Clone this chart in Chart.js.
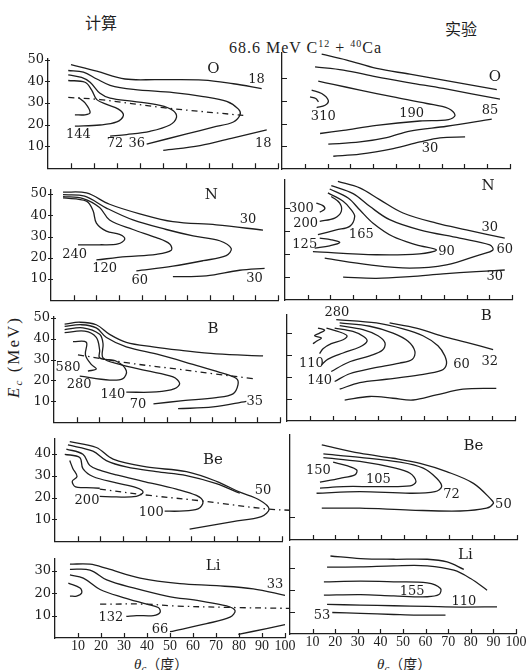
<!DOCTYPE html>
<html lang="zh">
<head>
<meta charset="UTF-8">
<title>68.6 MeV C12 + 40Ca contour maps</title>
<script src="https://cdn.jsdelivr.net/npm/chart.js"></script>
<style>
  html, body { margin: 0; padding: 0; background: #fff; }
  body { position: relative; width: 529px; height: 670px; overflow: hidden; color: #1e1e1e; }
  canvas { position: absolute; }
  .txt { position: absolute; white-space: nowrap; line-height: 1; }
  .cjk { font-family: 'Noto Sans CJK SC', sans-serif; font-size: 16px; }
  .serif { font-family: 'Liberation Serif', serif; }
  sup { font-size: 10px; vertical-align: 6px; }
  sub { font-size: 11px; vertical-align: -3px; }
</style>
</head>
<body>
<div class="txt cjk" style="left:85px;top:14px;">计算</div>
<div class="txt cjk" style="left:445px;top:20px;">实验</div>
<div class="txt serif" style="left:229px;top:39px;font-size:16px;letter-spacing:1px;">68.6 MeV C<sup>12</sup> + <sup>40</sup>Ca</div>
<div class="txt serif" style="left:14px;top:357px;font-size:17px;letter-spacing:2px;transform:translate(-50%,-50%) rotate(-90deg);"><i>E</i><sub><i>c</i></sub> (MeV)</div>
<div class="txt serif" style="left:134px;top:656px;font-size:15px;"><i>θ</i><sub><i>c</i></sub><span class="cjk" style="font-size:14px;">（度）</span></div>
<div class="txt serif" style="left:377px;top:656px;font-size:15px;"><i>θ</i><sub><i>c</i></sub><span class="cjk" style="font-size:14px;">（度）</span></div>

<script>
  const INK = '#1e1e1e';

  // angle ticks (degrees) shared by every panel
  const thetaTicks = [10, 20, 30, 40, 50, 60, 70, 80, 90, 100];

  // ---- O, calculation ----
  const oCalc18 = [[10,47.7],[21.2,44.7],[33.5,41.1],[47.2,40.8],[67.5,40.6],[80.6,38.9],[92.9,36.7]];
  const oCalc18low = [[50.1,8.2],[66.1,10.4],[80.6,14],[95.1,17.7]];
  const oCalc36 = [[8.8,45],[15.4,44.3],[21.2,41.1],[27,38.2],[37.1,36.3],[54.5,34.8],[67.5,33],[77.7,30.8],[82.8,27.2],[83.5,24.6],[80.6,21.3],[71.9,18.9],[60.3,15.8],[42.9,11.1]];
  const oCalc72 = [[8.8,43],[14.6,41.8],[18.3,39.6],[22.6,34.5],[27,32.3],[37.1,30.8],[48.7,28.9],[54.5,26.5],[55.9,23.5],[53,19.9],[44.3,17],[34.2,15.5],[27,14.8]];
  const oCalc144 = [[8.8,40.4],[16.1,39.6],[19,36],[21.2,31.6],[25.5,29.4],[30.6,27.2],[32.8,24.3],[29.9,21.3],[22.6,19.9],[11.7,19.4]];
  const oCalcCore = [[13.2,32.6],[16.1,30.1],[18.3,25.7],[16.1,24.6],[11.7,24.6]];
  const oCalcRidge = [[8.8,32.6],[22.6,31.6],[50.1,27.9],[84.9,24.3]];
  const oCalcNotes = [[90.7,40.8,'18'],[13.2,15.5,'144'],[29.1,11.1,'72'],[38.6,11.1,'36'],[93.6,11.5,'18']];

  // ---- O, experiment ----
  const oExp30 = [[17.4,50.5],[28.4,47.9],[41.5,44.2],[56.1,41.7],[70.8,39.1],[94.2,34.9]];
  const oExp85 = [[14.5,44.9],[26.9,43.5],[41.5,40.5],[56.1,37.9],[70.8,35.4],[95.6,30.7]];
  const oExp190 = [[15.9,38.6],[22.5,37.2],[34.2,34.7],[48.8,31.7],[63.5,28.8],[73,26.6],[75.9,23.6],[73,21.7],[60.5,21.1],[41.5,19.2],[26.9,17],[16.7,15.6]];
  const oExp85low = [[20.3,10.9],[34.2,11.9],[45.9,13.8],[56.1,16.7],[72.2,18.8],[92,21.9]];
  const oExp30low = [[22.5,5.6],[34.2,6.5],[48.8,9],[60.5,11.9],[69.3,13.7],[80.3,14.1]];
  const oExp310 = [[13,34.7],[17.4,33.2],[20.3,30.2],[18.9,28],[15.2,27]];
  const oExp310in = [[12.3,31.7],[14.8,31],[16,29.5]];
  const oExpNotes = [[18.1,22.9,'310'],[56.9,24.4,'190'],[91.2,25.8,'85'],[64.9,9,'30']];

  // ---- N, calculation ----
  const nCalc30 = [[5.3,50.9],[15.6,50.5],[25.8,45.2],[39.1,40.7],[53.7,37],[72.8,35.5],[93.4,33]];
  const nCalc60 = [[5.3,49.7],[14.8,49],[24.4,43.4],[36.1,37.8],[50.8,33.3],[62.6,30.3],[74.3,28],[79.4,24.3],[77.2,21],[67,18.6],[53.7,16],[37.6,13.8]];
  const nCalc120 = [[5.3,48.8],[14.1,47.9],[21.4,43.7],[25.8,37.8],[36.1,33.3],[46.4,29.5],[52.3,26.5],[53,23.5],[46.4,21.6],[33.2,20.5],[20,19]];
  const nCalc240 = [[5.3,48.2],[15.6,46.7],[18.5,42.2],[20,36.3],[24.4,32.5],[30.2,31],[32.5,28.8],[29.5,26.5],[21.4,26.1],[11.9,26.1]];
  const nCalc30low = [[53.7,11.1],[68.4,11.5],[83.1,14.1],[94.1,15]];
  const nCalcNotes = [[86.8,37.8,'30'],[10.4,21.6,'240'],[23.6,15,'120'],[39.1,9.3,'60'],[89.7,10,'30']];

  // ---- N, experiment ----
  const nExp30 = [[23.3,51.4],[32.9,48.6],[41.7,43.5],[52,37.7],[66.7,33.3],[79.9,30.4],[96.8,26.8]];
  const nExp60 = [[20.4,49.6],[30,46.1],[37.3,40.6],[46.1,34.8],[59.3,30.4],[76.9,26.8],[90.2,23.9],[91.6,21.7],[85.8,19.6],[71.1,15.2],[54.9,13.8],[37.3,15.2],[17.5,18.1]];
  const nExp90 = [[19.7,48.1],[27.8,44.2],[32.9,39.1],[38.8,33.3],[47.6,27.5],[57.9,23.9],[66.7,21.7],[59.3,20],[40.2,19.6],[12.3,21]];
  const nExp165 = [[18.9,46.4],[25.6,42.8],[29.2,39.1],[30.7,36.2],[28.5,31.9],[22.6,30.4],[14.5,28.3]];
  const nExp125 = [[15.3,26.8],[20.4,26.1],[24.1,24.9],[19.7,23.5],[13.1,22.5]];
  const nExp200 = [[15.3,34.1],[21.9,35.5],[24.8,38.4],[24.1,42],[20.4,44.9]];
  const nExp300 = [[13.8,42],[16.7,40.9],[17.5,39.4],[15.3,38]];
  const nExp30low = [[25.6,9.9],[40.2,9.4],[54.9,10.1],[69.6,11.3],[84.3,12.3],[96.8,13]];
  const nExpNotes = [[90.2,31.2,'30'],[7.2,39.4,'300'],[9.1,33.3,'200'],[8.7,23.9,'125'],[33.6,28.3,'165'],[71.1,21,'90'],[96.8,21.7,'60'],[92.4,10.1,'30']];

  // ---- B, calculation ----
  const bCalc35 = [[4.7,47],[11.4,47.9],[18.7,46.7],[24.6,42.1],[32,38.3],[43.8,36.1],[55.6,34.5],[71.8,32.7],[92.5,31.8]];
  const bCalc70 = [[4.7,45.9],[12.1,46.7],[18.7,45.2],[23.2,40.6],[32,36.1],[46.8,32.3],[61.5,27.7],[73.3,23.9],[80.7,20.9],[81.4,17.9],[79.2,13.6],[71.8,11.8],[57.1,10.3],[44,8.8]];
  const bCalc140 = [[4.7,44.4],[12.8,45.2],[20.2,42.1],[21.7,37.6],[21.7,30.8],[29.1,27.7],[40.9,24.7],[52.7,21.7],[55.6,18.6],[53.4,16.1],[45.3,14.5],[32,14.4]];
  const bCalc280 = [[4.7,42.9],[13.6,43.6],[18.7,40.6],[20.2,34.5],[20.2,30.8],[27.6,29.2],[32,24.7],[30.5,20.9],[24.6,20.2],[11.4,22.1]];
  const bCalc580 = [[8.4,38.6],[14.3,38.3],[13.9,32.3],[16.5,27.7],[18.7,25.5],[15,24.5]];
  const bCalc35low = [[54.9,6.5],[70.4,7.3],[85.1,10]];
  const bCalcRidge = [[10.6,32.3],[32,28.5],[54.1,25.5],[70.4,23.2],[88.1,20.9]];
  const bCalcNotes = [[6.2,26.2,'580'],[11.1,18.2,'280'],[26.1,13.3,'140'],[37.2,8.5,'70'],[88.8,10,'35']];

  // ---- B, experiment ----
  const bExp32 = [[45,44.4],[56.7,42.1],[68.4,38.3],[78.7,35.6],[90.4,32.3]];
  const bExp60 = [[21.6,45.9],[39.2,44.4],[50.9,41.7],[59.6,38.6],[66.2,34.1],[69.2,29.5],[69.9,25.5],[67.7,22.9],[58.2,20.9],[43.6,18.9],[31.9,17.4],[23.1,14.4]];
  const bExp140 = [[23.1,44.4],[36.3,42.9],[46.5,39.8],[53.1,36.1],[56.1,31.5],[55,28],[49.4,26.2],[37.7,23.9],[27.5,21.4],[20.9,17.9]];
  const bExpMid = [[23.1,43.2],[33.3,41.4],[39.9,38.6],[43,35.3],[41.8,32],[36.3,29.5],[26.8,26.5],[19.4,22.4]];
  const bExp110 = [[20.9,42.1],[28.9,40.6],[33.6,38.3],[35.1,36.1],[31.9,33.5],[24.6,30.8],[18,28],[15.1,25.5]];
  const bExpIn = [[17.3,42.1],[23.1,40.3],[26.3,38.6],[24.6,36.8],[19.4,35],[15.8,32.7],[14.3,30.5]];
  const bExp280 = [[13.6,42.1],[16.5,41.1],[14.3,39.8],[12.1,38.6],[15.1,37.6],[12.9,36.1],[11.4,35]];
  const bExp32low = [[25.3,9.5],[36.3,11.1],[46.5,10.3],[55.3,9.5],[65.5,11.8],[77.2,14.4],[91.8,14.8]];
  const bExpNotes = [[21.9,48.9,'280'],[10.7,26.2,'110'],[14.3,18.3,'140'],[76.5,25.5,'60'],[88.9,27,'32']];

  // ---- Be, calculation ----
  const beCalc50 = [[6.5,45.7],[18.2,43],[25.6,37.7],[40.2,34.1],[57.9,31.9],[71.1,27.5],[81.4,22.5],[90.2,18.8],[94.3,14.8],[90.9,11.3],[78.4,9],[59.3,5.5]];
  const beCalc50in = [[5.7,44.2],[16.7,41.3],[22.6,37],[31.4,34.1],[44.6,31.9],[57.9,30.1],[71.1,26.4],[81.4,22]];
  const beCalc100 = [[5,42.3],[12.3,39.9],[15.3,34.8],[19.7,32.6],[27,30.4],[38.8,27.5],[53.5,23.9],[62.3,21],[65.2,18.1],[63,14.8],[54.9,13.8],[48.3,13.8]];
  const beCalc200 = [[4.3,39.9],[10.9,38.4],[12.3,33.3],[16.7,29.7],[27,26.8],[35.8,24.6],[38.8,22.5],[35.8,20.6],[27,20.3],[19.7,20.6]];
  const beCalcCore = [[6.5,37],[7.9,33.3],[9.7,29.7],[7.6,27.5],[9.1,24.9],[13.8,24.6],[19.7,24.3]];
  const beCalcRidge = [[19.7,23.9],[41.7,21],[63.7,18.6],[93.1,14.8],[103.4,14.2]];
  const beCalcNotes = [[91.6,23.2,'50'],[14.1,18.6,'200'],[42.4,13.3,'100']];

  // ---- Be, experiment ----
  const beExp50 = [[14,41.3],[30.8,37.7],[45.5,35.5],[57.3,33.3],[69,29.7],[80.8,24.6],[88.8,17.4],[89.6,15.9],[86.6,13.8],[74.9,12.6],[52.9,13],[30.8,13.8],[14,13.8]];
  const beExp72 = [[14.7,37.4],[30.8,35.9],[48.5,33.8],[58.7,31.2],[64.6,26.8],[66.8,23.2],[63.9,21],[52.9,20.3],[30.8,21],[11.7,20.3]];
  const beExp105 = [[14.7,35.8],[30.8,34.1],[45.5,31.4],[52.9,29],[55.5,25.4],[52.9,23.5],[38.2,23.2],[23.5,23.2],[13.2,22.5]];
  const beExp150 = [[19,33.8],[25,32.3],[29.4,30.4],[28.6,28.3],[22,26.8],[13.2,25.1]];
  const beExpNotes = [[12.5,30.3,'150'],[38.9,26.1,'105'],[71.2,19.9,'72'],[94,15.5,'50']];

  // ---- Li, calculation ----
  const liCalc33 = [[6.5,32.9],[15.2,32.9],[22.5,31],[37,26.7],[54.3,24.2],[70.3,23.3],[86.2,21.9],[100,19]];
  const liCalc66 = [[6.5,30.6],[15.2,30.3],[22.5,25.9],[34.1,22.3],[48.6,18.7],[63,16.5],[74.6,14.3],[78.3,12.2],[76.1,9.3],[65.9,6.4],[50,2.8]];
  const liCalc132 = [[6.5,28.1],[12.3,26.7],[19.6,21.6],[29.7,18],[39.9,15.1],[44.9,13.6],[45.7,11.4],[42.8,10],[35.5,10],[31,9.6]];
  const liCalcCore = [[5.8,24.5],[10.9,22.3],[11.6,20.1],[9.4,18.7],[6.5,18.7]];
  const liCalc33low = [[79.7,1.6],[92,4.2],[100,6]];
  const liCalcRidge = [[19.6,15.1],[39.9,15.1],[51.4,14.3],[77.5,13.6],[102.2,13.2]];
  const liCalcNotes = [[95.7,23.8,'33'],[24.3,9.3,'132'],[45.7,3.9,'66']];

  // ---- Li, experiment ----
  const liExpTop = [[17.9,35.6],[31.2,34.4],[45.9,34.1],[60.7,34.1],[69.5,32.9],[76.9,29.5]];
  const liExp110 = [[16.4,30.5],[31.2,30.6],[45.9,31.1],[60.7,31.1],[72.5,29.1],[79.9,25.3],[87.2,20]];
  const liExp155 = [[15,23.8],[31.2,24.1],[45.9,23.8],[60.7,23.3],[66.6,20.8],[65.9,18],[60.7,17],[45.9,17.4],[31.2,18],[15,17.7]];
  const liExp110low = [[16.4,13.5],[31.2,13.2],[45.9,12.9],[60.7,12.6],[75.4,12.3],[91.6,12.4]];
  const liExp53 = [[18.7,9.8],[31.2,9.4],[45.9,8.9],[56.3,8.6],[68.8,8.6]];
  const liExpNotes = [[54,19.5,'155'],[76.9,14.7,'110'],[14.2,8.6,'53']];

  // tick marks / labels on the energy axis
  const eTicksFull = [10, 20, 30, 40, 50];
  const eTicks40 = [10, 20, 30, 40];
  const eTicks30 = [10, 20, 30];
  const eTicksBeExp = [10];

  // draws tick marks and contour value labels in data coordinates
  const decor = {
    id: 'decor',
    afterDraw(chart, args, o) {
      const { ctx, chartArea: a } = chart;
      const xs = chart.scales.x, ys = chart.scales.y;
      ctx.save();
      ctx.strokeStyle = INK;
      ctx.lineWidth = 1.2;
      ctx.beginPath();
      thetaTicks.forEach(v => {
        const px = Math.round(xs.getPixelForValue(v)) + 0.5;
        ctx.moveTo(px, a.bottom);
        ctx.lineTo(px, a.bottom - 5);
      });
      o.yTicks.forEach(v => {
        const py = Math.round(ys.getPixelForValue(v)) + 0.5;
        if (o.calc) { ctx.moveTo(a.left - 3, py); ctx.lineTo(a.left + 2, py); }
        else { ctx.moveTo(a.left, py); ctx.lineTo(a.left + 5, py); }
      });
      ctx.stroke();

      ctx.fillStyle = INK;
      ctx.textAlign = 'center';
      ctx.textBaseline = 'middle';
      ctx.font = '13px "DejaVu Serif"';
      o.notes.forEach(([x, y, t]) => {
        ctx.fillText(t, xs.getPixelForValue(x), ys.getPixelForValue(y));
      });
      ctx.font = '15px "DejaVu Serif"';
      const [ex, ey, et] = o.elem;
      ctx.fillText(et, xs.getPixelForValue(ex), ys.getPixelForValue(ey));
      ctx.restore();
    }
  };

  function panel(box, lines, notes, elem, yTicks, calc, bottomLabels) {
    const padL = calc ? 40 : 6;
    const padR = bottomLabels ? 16 : 12;
    const padT = 10;
    const padB = bottomLabels ? 22 : 8;
    const cv = document.createElement('canvas');
    cv.width = box.r - box.l + padL + padR;
    cv.height = box.b - box.t + padT + padB;
    cv.style.left = (box.l - padL) + 'px';
    cv.style.top = (box.t - padT) + 'px';
    document.body.appendChild(cv);

    new Chart(cv, {
      type: 'scatter',
      data: {
        datasets: lines.map(([pts, dashed]) => ({
          data: pts,
          showLine: true,
          borderColor: INK,
          borderWidth: 1.3,
          borderDash: dashed ? [6, 4, 1.5, 4] : [],
          pointRadius: 0,
          tension: 0.35,
          fill: false,
          clip: false
        }))
      },
      options: {
        responsive: false,
        animation: false,
        events: [],
        layout: { padding: { left: 0, top: padT, right: padR, bottom: 0 } },
        plugins: {
          legend: { display: false },
          tooltip: { enabled: false },
          decor: { yTicks, calc, notes, elem }
        },
        scales: {
          x: {
            type: 'linear', min: 0, max: 100,
            grid: { display: false, drawTicks: false },
            border: { color: INK, width: 1.3 },
            ticks: {
              display: bottomLabels, autoSkip: false, maxRotation: 0, minRotation: 0,
              padding: 0, color: INK, font: { family: 'Liberation Serif', size: 14 }
            },
            afterBuildTicks: s => { s.ticks = thetaTicks.map(v => ({ value: v })); },
            afterFit: s => { s.height = padB; }
          },
          y: {
            type: 'linear', min: 0, max: box.ymax,
            grid: { display: false, drawTicks: false },
            border: { color: INK, width: 1.3 },
            ticks: {
              display: calc, padding: 4, color: INK,
              font: { family: 'DejaVu Serif', size: 13 }
            },
            afterBuildTicks: s => { s.ticks = yTicks.map(v => ({ value: v })); },
            afterFit: s => { s.width = padL; }
          }
        }
      },
      plugins: [decor]
    });
  }

  panel({ l: 48, r: 278, t: 57, b: 172, ymax: 50.4 },
    [[oCalc18], [oCalc18low], [oCalc36], [oCalc72], [oCalc144], [oCalcCore], [oCalcRidge, true]],
    oCalcNotes, [71.9, 45.5, 'O'], eTicksFull, true, false);
  panel({ l: 282, r: 510, t: 53, b: 169, ymax: 51 },
    [[oExp30], [oExp85], [oExp190], [oExp85low], [oExp30low], [oExp310], [oExp310in]],
    oExpNotes, [93.4, 40.2, 'O'], eTicks40, false, false);

  panel({ l: 51, r: 278, t: 188, b: 304, ymax: 52 },
    [[nCalc30], [nCalc60], [nCalc120], [nCalc240], [nCalc30low]],
    nCalcNotes, [70.6, 49.7, 'N'], eTicksFull, true, false);
  panel({ l: 285, r: 512, t: 180, b: 300, ymax: 52 },
    [[nExp30], [nExp60], [nExp90], [nExp165], [nExp125], [nExp200], [nExp300], [nExp30low]],
    nExpNotes, [89.4, 49.3, 'N'], eTicks40, false, false);

  panel({ l: 54, r: 280, t: 315, b: 426, ymax: 50.5 },
    [[bCalc35], [bCalc70], [bCalc140], [bCalc280], [bCalc580], [bCalc35low], [bCalcRidge, true]],
    bCalcNotes, [70.4, 44.4, 'B'], eTicksFull, true, false);
  panel({ l: 287, r: 515, t: 315, b: 421, ymax: 48 },
    [[bExp32], [bExp60], [bExp140], [bExpMid], [bExp110], [bExpIn], [bExp280], [bExp32low]],
    bExpNotes, [87.4, 47.4, 'B'], eTicks40, false, false);

  panel({ l: 55, r: 282, t: 437, b: 545, ymax: 47 },
    [[beCalc50], [beCalc50in], [beCalc100], [beCalc200], [beCalcCore], [beCalcRidge, true]],
    beCalcNotes, [69.6, 37, 'Be'], eTicks40, true, false);
  panel({ l: 290, r: 517, t: 435, b: 540, ymax: 45.6 },
    [[beExp50], [beExp72], [beExp105], [beExp150]],
    beExpNotes, [80.8, 40.6, 'Be'], eTicksBeExp, false, false);

  panel({ l: 55, r: 285, t: 557, b: 638, ymax: 35.3 },
    [[liCalc33], [liCalc66], [liCalc132], [liCalcCore], [liCalc33low], [liCalcRidge, true]],
    liCalcNotes, [68.8, 32, 'Li'], eTicks30, true, true);
  panel({ l: 290, r: 516, t: 547, b: 634, ymax: 39.7 },
    [[liExpTop], [liExp110], [liExp155], [liExp110low], [liExp53]],
    liExpNotes, [77.6, 36.2, 'Li'], eTicks30, false, true);
</script>
</body>
</html>
